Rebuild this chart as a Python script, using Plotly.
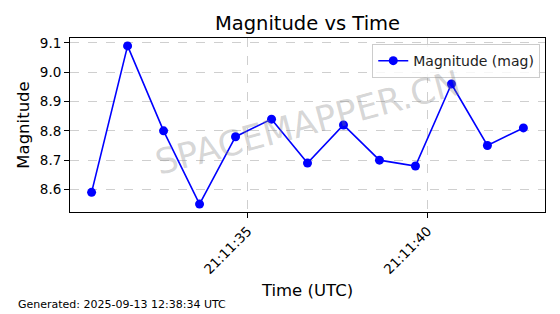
import plotly.graph_objects as go

times = ["2025-09-13 21:11:30.66", "2025-09-13 21:11:31.66", "2025-09-13 21:11:32.66",
         "2025-09-13 21:11:33.66", "2025-09-13 21:11:34.66", "2025-09-13 21:11:35.66",
         "2025-09-13 21:11:36.66", "2025-09-13 21:11:37.66", "2025-09-13 21:11:38.66",
         "2025-09-13 21:11:39.66", "2025-09-13 21:11:40.66", "2025-09-13 21:11:41.66",
         "2025-09-13 21:11:42.66"]
magnitudes = [8.59, 9.09, 8.80, 8.55, 8.78, 8.84, 8.69, 8.82, 8.70, 8.68, 8.96, 8.75, 8.81]
x_tick_vals = ["2025-09-13 21:11:35", "2025-09-13 21:11:40"]
x_tick_text = ["21:11:35", "21:11:40"]
y_tick_vals = [8.6, 8.7, 8.8, 8.9, 9.0, 9.1]

FONT = "DejaVu Sans"

fig = go.Figure()
fig.add_trace(go.Scatter(
    x=times, y=magnitudes, mode="lines+markers", name="Magnitude (mag)",
    line=dict(color="#0000ff", width=1.6),
    marker=dict(color="#0000ff", size=9),
))

fig.update_layout(
    width=560, height=314,
    margin=dict(l=70, r=15, t=38, b=102),
    paper_bgcolor="white", plot_bgcolor="white",
    font=dict(family=FONT, color="black"),
    title=dict(text="Magnitude vs Time", xref="paper", x=0.5, xanchor="center",
               yref="container", y=0.925, yanchor="middle",
               font=dict(size=19.5, family=FONT, color="black")),
    showlegend=True,
    legend=dict(x=0.99, y=0.965, xanchor="right", yanchor="top",
                bgcolor="rgba(255,255,255,0.8)", bordercolor="#cccccc", borderwidth=1,
                font=dict(size=14, family=FONT, color="#222")),
    xaxis=dict(
        type="date", range=["2025-09-13 21:11:30.06", "2025-09-13 21:11:43.26"],
        tickvals=x_tick_vals, ticktext=x_tick_text, tickangle=-45,
        tickfont=dict(size=13.5, family=FONT, color="black"),
        ticks="outside", ticklen=5, tickcolor="black",
        showline=True, linecolor="black", linewidth=1, mirror=True,
        showgrid=True, gridcolor="#cfcfcf", griddash="dash", gridwidth=1,
        zeroline=False,
        title=dict(text="Time (UTC)", font=dict(size=16.5, family=FONT, color="black"), standoff=8),
    ),
    yaxis=dict(
        range=[8.523, 9.117], tickvals=y_tick_vals, ticktext=[f"{v:.1f}" for v in y_tick_vals],
        tickfont=dict(size=13.5, family=FONT, color="black"),
        ticks="outside", ticklen=5, tickcolor="black",
        showline=True, linecolor="black", linewidth=1, mirror=True,
        showgrid=True, gridcolor="#cfcfcf", griddash="dash", gridwidth=1,
        zeroline=False,
        title=dict(text="Magnitude", font=dict(size=16.5, family=FONT, color="black"), standoff=6),
    ),
    annotations=[
        dict(text="SPACEMAPPER.CN", xref="paper", yref="paper", x=0.5, y=0.51,
             showarrow=False, textangle=-15,
             font=dict(size=35, family=FONT, color="rgba(128,128,128,0.32)")),
        dict(text="Generated: 2025-09-13 12:38:34 UTC", xref="paper", yref="paper",
             x=-0.113, y=-0.534, xanchor="left", yanchor="middle", showarrow=False,
             font=dict(size=11, family=FONT, color="black")),
    ],
)

fig.write_html("out.html")
